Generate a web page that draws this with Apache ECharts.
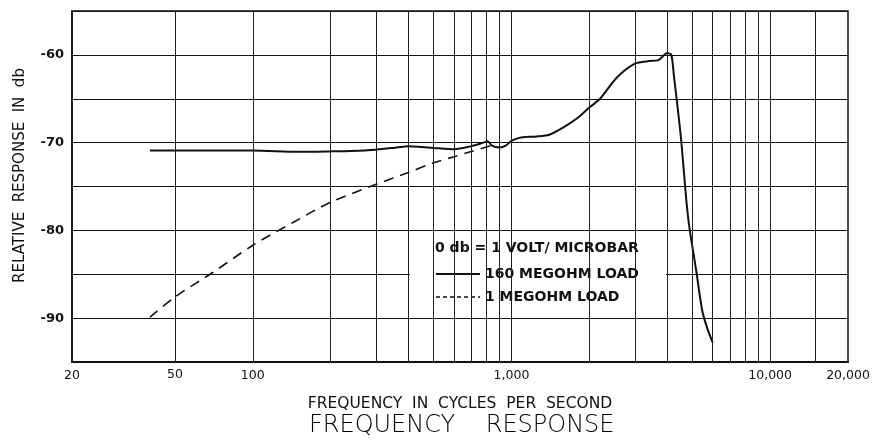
<!DOCTYPE html>
<html>
<head>
<meta charset="utf-8">
<script src="https://cdn.jsdelivr.net/npm/echarts@6/dist/echarts.min.js"></script>
<style>
  html, body { margin: 0; padding: 0; background: #fff; }
  #chart { width: 876px; height: 443px; }
</style>
</head>
<body>
<div id="chart"></div>
<script>
// frequency (c/s) and response (db)
const solidFreq = [40, 60, 100, 150, 200, 240, 300, 350, 400, 450, 500, 600, 700, 780, 810, 840, 900, 950, 1000,
  1100, 1250, 1400, 1600, 1800, 2000, 2200, 2550, 3000, 3400, 3700, 4000, 4150, 4250, 4350, 4530, 4740, 4870, 5180, 5460, 5720, 6000]
const solidDb = [-70.9, -70.9, -70.9, -71.05, -71.0, -70.95, -70.8, -70.6, -70.4, -70.5, -70.6, -70.75, -70.4, -70.0, -69.85, -70.35, -70.55, -70.35, -69.8,
  -69.4, -69.3, -69.1, -68.2, -67.2, -66.0, -65.0, -62.6, -61.0, -60.7, -60.6, -59.8, -60.0, -62.5, -65.0, -69.7, -76.5, -79.6, -84.6, -89.1, -91.2, -92.8]

const dashFreq = [40, 50, 70, 100, 143, 200, 300, 400, 500, 600, 700, 800, 850]
const dashDb = [-89.9, -87.6, -84.8, -81.7, -79.1, -76.8, -74.75, -73.4, -72.3, -71.6, -71.0, -70.5, -70.3]

// vertical grid lines on the chart paper
const freqGrid = [50, 100, 200, 300, 400, 500, 600, 700, 800, 900, 1000,
  2000, 3000, 4000, 5000, 6000, 7000, 8000, 9000, 10000, 15000]
const xTickLabels = [20, 50, 100, 1000, 10000, 20000]
const yTickLabels = [-60, -70, -80, -90]

const seriesNames = ['160 MEGOHM LOAD', '1 MEGOHM LOAD']

const ink = '#111'
const font = 'DejaVu Sans'

function fmtFreq(v) {
  v = Math.round(v)
  return v >= 1000 ? v.toLocaleString('en-US') : String(v)
}

const chart = echarts.init(document.getElementById('chart'))

chart.setOption({
  backgroundColor: '#fff',
  animation: false,
  title: {
    text: 'FREQUENCY    RESPONSE',
    left: 304,
    bottom: 0,
    textStyle: { fontFamily: font, fontSize: 24, fontWeight: 200, color: '#000' }
  },
  legend: {
    data: [
      { name: seriesNames[0] },
      { name: seriesNames[1], lineStyle: { type: [4, 3], width: 1.4 } }
    ],
    orient: 'vertical',
    left: 430,
    top: 262,
    itemWidth: 44,
    itemHeight: 14,
    itemGap: 9,
    itemStyle: { opacity: 0 },
    textStyle: { fontFamily: font, fontSize: 14, fontWeight: 'bold', color: ink },
    selectedMode: false
  },
  graphic: [{
    type: 'text',
    left: 435,
    top: 241,
    z: 100,
    style: { text: '0 db = 1 VOLT/ MICROBAR', font: 'bold 14px "DejaVu Sans"', fill: ink }
  }],
  grid: {
    left: 72, right: 28, top: 11, bottom: 81,
    show: true, borderColor: ink, borderWidth: 1.5
  },
  xAxis: {
    type: 'log',
    logBase: 10,
    min: 20,
    max: 20000,
    name: 'FREQUENCY  IN  CYCLES  PER  SECOND',
    nameLocation: 'middle',
    nameGap: 34,
    nameTextStyle: { fontFamily: font, fontSize: 15.5, color: ink },
    axisLine: { lineStyle: { color: ink, width: 2 } },
    axisTick: { show: false },
    splitLine: { show: false },
    axisLabel: {
      showMinLabel: true,
      showMaxLabel: true,
      margin: 7,
      fontFamily: font,
      fontSize: 12.5,
      color: ink,
      formatter: v => xTickLabels.indexOf(Math.round(v)) >= 0 ? fmtFreq(v) : ''
    }
  },
  yAxis: {
    type: 'value',
    min: -95,
    max: -55,
    interval: 5,
    name: 'RELATIVE  RESPONSE  IN  db',
    nameLocation: 'middle',
    nameGap: 44,
    nameTextStyle: { fontFamily: font, fontSize: 15, color: ink, padding: [0, 0, 0, 22] },
    axisLine: { show: true, lineStyle: { color: ink, width: 1.5 } },
    axisTick: { show: false },
    splitLine: { show: true, lineStyle: { color: ink, width: 1 } },
    axisLabel: {
      margin: 8,
      fontFamily: font,
      fontSize: 13,
      fontWeight: 'bold',
      color: ink,
      formatter: v => yTickLabels.indexOf(v) >= 0 ? String(v) : ''
    }
  },
  series: [
    {
      name: 'paper',
      type: 'line',
      data: [],
      z: 1,
      markLine: {
        silent: true,
        symbol: ['none', 'none'],
        animation: false,
        lineStyle: { color: '#222', width: 1, type: 'solid' },
        label: { show: false },
        data: freqGrid.map(f => {
          const item = { xAxis: f }
          if (f === 50) {
            item.label = {
              show: true, position: 'start', distance: 6, formatter: '50',
              fontFamily: font, fontSize: 12.5, color: ink
            }
          }
          return item
        })
      }
    },
    {
      name: 'box',
      type: 'line',
      data: [],
      z: 2,
      markArea: {
        silent: true,
        itemStyle: { color: '#fff' },
        data: [[{ xAxis: 405, yAxis: -80.12 }, { xAxis: 3960, yAxis: -89.88 }]]
      }
    },
    {
      name: seriesNames[0],
      type: 'line',
      z: 3,
      data: solidFreq.map((f, i) => [f, solidDb[i]]),
      showSymbol: false,
      symbol: 'none',
      smooth: 0.25,
      lineStyle: { color: ink, width: 2 },
      itemStyle: { color: ink }
    },
    {
      name: seriesNames[1],
      type: 'line',
      z: 3,
      data: dashFreq.map((f, i) => [f, dashDb[i]]),
      showSymbol: false,
      symbol: 'none',
      smooth: 0.3,
      lineStyle: { color: ink, width: 1.6, type: [10, 7] },
      itemStyle: { color: ink }
    }
  ]
})
</script>
</body>
</html>
